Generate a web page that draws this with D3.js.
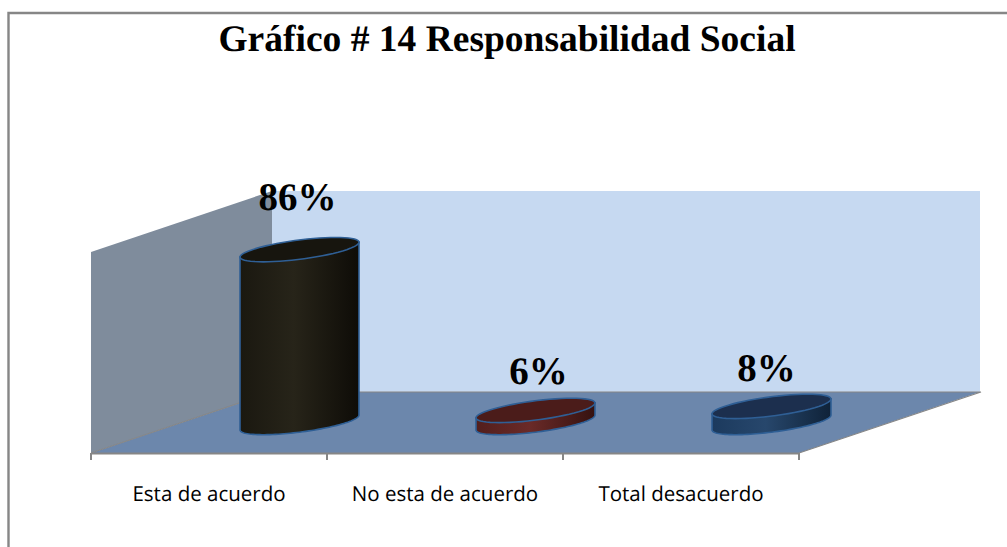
<!DOCTYPE html>
<html>
<head>
	<meta charset="utf-8">
	<style>
	body {
		margin: 0;
		background: #fff;
	}
	svg {
		display: block;
		text-rendering: geometricPrecision;
	}
	</style>
</head>
<body>
	<script src="https://d3js.org/d3.v7.min.js"></script>
	<script>
	var title = "Gráfico # 14 Responsabilidad Social";
	var categories = ["Esta de acuerdo", "No esta de acuerdo", "Total desacuerdo"];
	var values = [0.86, 0.06, 0.08];
	var valueLabels = ["86%", "6%", "8%"];

	var width = 1007, height = 547;

	// corners of the 3d box
	var left = 91, right = 799, front = 453,
		depthX = 181, depthY = 61, wallHeight = 201;

	// per bar: side light, side mid, side dark, top
	var barColors = [
		["#1a1810", "#272419", "#0e0c07", "#17150e"],
		["#521e1c", "#6a2a28", "#351210", "#4b1c1a"],
		["#1c3a5e", "#27476c", "#0f2238", "#1c2f4e"]
	];
	// the labels were moved by hand in the original
	var labelShiftX = [-2, 3, -5];
	var labelShiftY = [-40, -26, -25];

	var svg = d3.select("body").append("svg")
		.attr("width", width)
		.attr("height", height);

	var x = d3.scaleBand()
		.domain(categories)
		.range([left, right]);

	var y = d3.scaleLinear()
		.domain([0, 1])
		.range([0, wallHeight]);

	// outer frame, only top and left are visible
	svg.append("path")
		.attr("d", "M8.5," + height + "V13H" + width)
		.attr("fill", "none")
		.attr("stroke", "#868686")
		.attr("stroke-width", 2.4);

	svg.append("text")
		.attr("x", 507)
		.attr("y", 51)
		.attr("text-anchor", "middle")
		.style("font", "bold 37.5px 'Liberation Serif'")
		.attr("fill", "#000")
		.text(title);

	// back wall
	svg.append("rect")
		.attr("x", left + depthX)
		.attr("y", front - depthY - y(1))
		.attr("width", right - left)
		.attr("height", y(1))
		.attr("fill", "#c6d9f1");

	// side wall
	var line = d3.line();
	svg.append("path")
		.attr("d", line([
			[left, front],
			[left, front - y(1)],
			[left + depthX, front - depthY - y(1)],
			[left + depthX, front - depthY]
		]) + "Z")
		.attr("fill", "#7f8c9c");

	// floor
	svg.append("path")
		.attr("d", line([
			[left, front],
			[right, front],
			[right + depthX, front - depthY],
			[left + depthX, front - depthY]
		]) + "Z")
		.attr("fill", "#6c87ac");

	svg.append("path")
		.attr("d", line([
			[left, front],
			[left + depthX, front - depthY],
			[right + depthX + 1, front - depthY],
			[right, front]
		]))
		.attr("fill", "none")
		.attr("stroke", "#868686")
		.attr("stroke-width", 1.2);

	// axis: labels from the band scale, ticks on the band edges
	var axis = svg.append("g")
		.attr("transform", "translate(0," + front + ")")
		.call(d3.axisBottom(x).tickSize(0).tickPadding(33));

	axis.select(".domain")
		.attr("stroke", "#868686")
		.attr("stroke-width", 2);

	axis.selectAll("text")
		.style("font", "20.5px 'Open Sans'")
		.attr("fill", "#000");

	axis.selectAll(".edge")
		.data(d3.range(categories.length + 1))
		.enter().append("line")
		.attr("x1", function(d){ return left + d * x.bandwidth(); })
		.attr("x2", function(d){ return left + d * x.bandwidth(); })
		.attr("y1", 0)
		.attr("y2", 7)
		.attr("stroke", "#868686")
		.attr("stroke-width", 2);

	// cylinder footprint is an ellipse in the floor plane
	var gap = 0.4;
	var ux = gap * x.bandwidth() / 2,
		vx = gap * depthX / 2,
		vy = gap * depthY / 2;
	var tLeft = Math.atan2(-vx, -ux), tRight = tLeft + Math.PI;

	function ellipsePoints(cx, cy, t0, t1) {
		return d3.range(0, 61).map(function(i){
			var t = t0 + (t1 - t0) * i / 60;
			return [cx + ux * Math.cos(t) + vx * Math.sin(t), cy - vy * Math.sin(t)];
		});
	}

	var defs = svg.append("defs");
	barColors.forEach(function(c, i){
		var grad = defs.append("linearGradient")
			.attr("id", "side" + i);
		grad.append("stop").attr("offset", "0%").attr("stop-color", c[0]);
		grad.append("stop").attr("offset", "45%").attr("stop-color", c[1]);
		grad.append("stop").attr("offset", "100%").attr("stop-color", c[2]);
	});

	var bars = svg.selectAll(".bar")
		.data(values)
		.enter().append("g")
		.attr("class", "bar");

	function centerX(i) {
		return x(categories[i]) + x.bandwidth() / 2 + depthX / 2;
	}
	var baseY = front - depthY / 2;

	// side: down the left edge, round the front of the base, up the right edge
	bars.append("path")
		.attr("d", function(d, i){
			var topY = baseY - y(d);
			var lower = ellipsePoints(centerX(i), baseY, tLeft, tRight);
			var pts = [ellipsePoints(centerX(i), topY, tLeft, tLeft)[0]]
				.concat(lower)
				.concat([ellipsePoints(centerX(i), topY, tRight, tRight)[0]]);
			return line(pts) + "Z";
		})
		.attr("fill", function(d, i){ return "url(#side" + i + ")"; })
		.attr("stroke", "#2f5f95")
		.attr("stroke-width", 1.6);

	bars.append("path")
		.attr("d", function(d, i){
			return line(ellipsePoints(centerX(i), baseY - y(d), 0, 2 * Math.PI)) + "Z";
		})
		.attr("fill", function(d, i){ return barColors[i][3]; })
		.attr("stroke", "#2f5f95")
		.attr("stroke-width", 1.6);

	svg.selectAll(".value")
		.data(values)
		.enter().append("text")
		.attr("class", "value")
		.attr("x", function(d, i){ return centerX(i) + labelShiftX[i]; })
		.attr("y", function(d, i){ return baseY - y(d) + labelShiftY[i]; })
		.attr("text-anchor", "middle")
		.style("font", "bold 39px 'Liberation Serif'")
		.attr("fill", "#000")
		.text(function(d, i){ return valueLabels[i]; });
	</script>
</body>
</html>
